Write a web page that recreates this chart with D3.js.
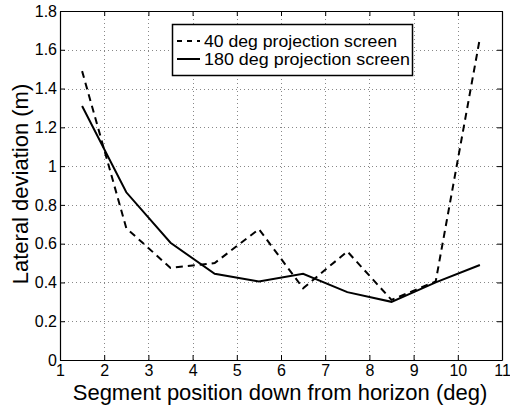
<!DOCTYPE html>
<html>
<head>
<meta charset="utf-8">
<script src="https://cdn.jsdelivr.net/npm/d3@7"></script>
<style>
  body { margin: 0; background: #fff; }
  svg text { font-family: "Liberation Sans", Arial, sans-serif; fill: #000; }
</style>
</head>
<body>
<svg width="510" height="405"></svg>
<script>
// data
const xPos = [1.5, 2.5, 3.5, 4.5, 5.5, 6.5, 7.5, 8.5, 9.5, 10.5];
const screen40 = [1.49, 0.68, 0.475, 0.50, 0.675, 0.37, 0.56, 0.31, 0.405, 1.66];
const screen180 = [1.31, 0.865, 0.605, 0.445, 0.405, 0.445, 0.35, 0.30, 0.40, 0.49];
const xTicks = [1, 2, 3, 4, 5, 6, 7, 8, 9, 10, 11];
const yTicks = [0, 0.2, 0.4, 0.6, 0.8, 1, 1.2, 1.4, 1.6, 1.8];
const seriesNames = ['40 deg projection screen', '180 deg projection screen'];

(function () {
  const svg = d3.select('svg');
  const left = 60, right = 502, top = 11, bottom = 360;

  const x = d3.scaleLinear().domain([1, 11]).range([left, right]);
  const y = d3.scaleLinear().domain([0, 1.8]).range([bottom, top]);

  // dotted grid
  const grid = svg.append('g').attr('stroke', '#888').attr('stroke-width', 1)
    .attr('stroke-dasharray', '1,3');
  grid.selectAll('.gx').data(xTicks.slice(1, -1)).enter().append('line')
    .attr('x1', d => Math.round(x(d)) + 0.5).attr('x2', d => Math.round(x(d)) + 0.5)
    .attr('y1', top).attr('y2', bottom);
  grid.selectAll('.gy').data(yTicks.slice(1, -1)).enter().append('line')
    .attr('y1', d => Math.round(y(d)) + 0.5).attr('y2', d => Math.round(y(d)) + 0.5)
    .attr('x1', left).attr('x2', right);

  // axes with inward ticks on all sides
  const fmt = d => String(d);
  const bottomAxis = svg.append('g').attr('transform', `translate(0,${bottom})`)
    .call(d3.axisBottom(x).tickValues(xTicks).tickFormat(fmt).tickSizeInner(-5).tickSizeOuter(0).tickPadding(5));
  const leftAxis = svg.append('g').attr('transform', `translate(${left},0)`)
    .call(d3.axisLeft(y).tickValues(yTicks).tickFormat(fmt).tickSizeInner(-5).tickSizeOuter(0).tickPadding(3));
  svg.append('g').attr('transform', `translate(0,${top})`)
    .call(d3.axisTop(x).tickValues(xTicks).tickFormat('').tickSizeInner(-5).tickSizeOuter(0));
  svg.append('g').attr('transform', `translate(${right},0)`)
    .call(d3.axisRight(y).tickValues(yTicks).tickFormat('').tickSizeInner(-5).tickSizeOuter(0));

  svg.selectAll('.domain').attr('stroke', '#000').attr('stroke-width', 1.2);
  svg.selectAll('.tick line').attr('stroke', '#000');
  svg.selectAll('.tick text').attr('font-size', 16).attr('font-family', '"Liberation Sans", Arial, sans-serif');
  bottomAxis.selectAll('.tick text').attr('dy', '0.71em');

  // lines
  const line = d3.line().x((d, i) => x(xPos[i])).y(d => y(d));
  svg.append('path').datum(screen40).attr('d', line)
    .attr('fill', 'none').attr('stroke', '#000').attr('stroke-width', 2)
    .attr('stroke-dasharray', '7,5');
  svg.append('path').datum(screen180).attr('d', line)
    .attr('fill', 'none').attr('stroke', '#000').attr('stroke-width', 2);

  // legend
  const lg = svg.append('g');
  lg.append('rect').attr('x', 172.5).attr('y', 24.5).attr('width', 240).attr('height', 51)
    .attr('fill', '#fff').attr('stroke', '#000').attr('stroke-width', 1.5);
  seriesNames.forEach((name, i) => {
    const ly = 41 + i * 18;
    lg.append('line').attr('x1', 177).attr('x2', 200).attr('y1', ly).attr('y2', ly)
      .attr('stroke', '#000').attr('stroke-width', 2)
      .attr('stroke-dasharray', i === 0 ? '5,5' : null);
    lg.append('text').attr('x', 204).attr('y', ly + 6).attr('font-size', 15.8)
      .attr('textLength', i === 0 ? 193 : 206).attr('lengthAdjust', 'spacingAndGlyphs')
      .text(name);
  });

  // axis titles
  svg.append('text').attr('x', 280).attr('y', 400)
    .attr('text-anchor', 'middle').attr('font-size', 22)
    .text('Segment position down from horizon (deg)');
  svg.append('text').attr('transform', 'translate(28,184) rotate(-90)')
    .attr('text-anchor', 'middle').attr('font-size', 22)
    .text('Lateral deviation (m)');
})();
</script>
</body>
</html>
